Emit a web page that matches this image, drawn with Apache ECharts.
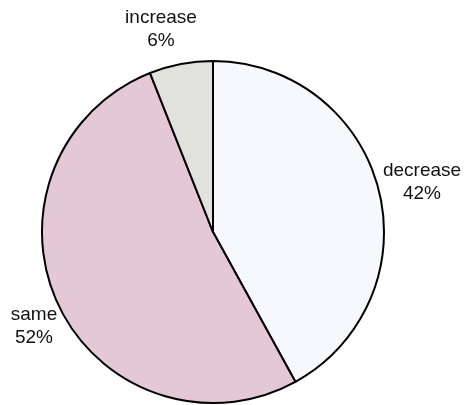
<!DOCTYPE html>
<html><head><meta charset="utf-8">
<script src="https://cdn.jsdelivr.net/npm/echarts@6/dist/echarts.min.js"></script>
<style>html,body{margin:0;padding:0;background:#fff}#c{width:465px;height:405px}</style>
</head><body><div id="c"></div>
<script>
const categories = ['decrease', 'same', 'increase'];
const values = [42, 52, 6];
const colors = ['#f7f8fe', '#e4c8d6', '#e2e2dc'];
const labelPos = [[422, 182], [34, 326], [161, 29]];

const chart = echarts.init(document.getElementById('c'));
chart.setOption({
  animation: false,
  series: [{
    type: 'pie',
    center: [213, 232],
    radius: 171,
    startAngle: 90,
    clockwise: true,
    data: categories.map((c, i) => ({ name: c, value: values[i], itemStyle: { color: colors[i] } })),
    itemStyle: { borderColor: '#000', borderWidth: 2 },
    label: {
      show: true, position: 'outside', formatter: '{b}\n{d}%',
      fontFamily: 'Liberation Sans, Arial', fontSize: 19, lineHeight: 23,
      color: '#111', align: 'center', overflow: 'none'
    },
    labelLine: { show: false },
    labelLayout: function (p) {
      const pos = labelPos[p.dataIndex];
      return { x: pos[0], y: pos[1], align: 'center', verticalAlign: 'middle' };
    }
  }]
});
</script></body></html>
